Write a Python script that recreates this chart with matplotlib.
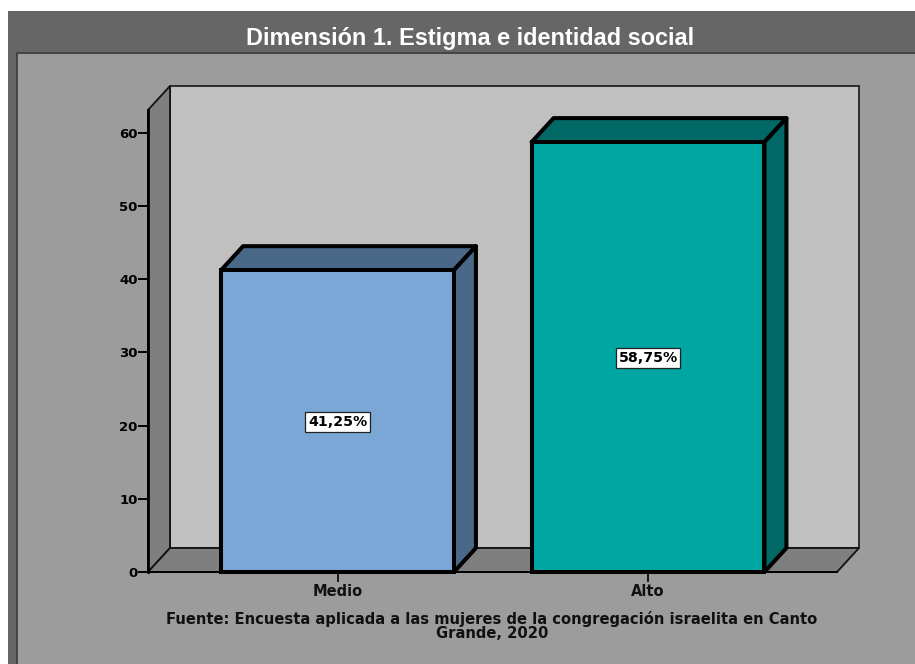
"""Recreates the 3D style bar chart of Dimension 1 (estigma e identidad social)."""

from matplotlib.patches import Polygon, Rectangle
import matplotlib.pyplot as plt

categories = ["Medio", "Alto"]
percentages = [41.25, 58.75]
percent_labels = ["41,25%", "58,75%"]
bar_colors = ["#7BA7D6", "#00A6A2"]
side_colors = ["#4A6887", "#006966"]
y_ticks = [0, 10, 20, 30, 40, 50, 60]

title = "Dimensión 1. Estigma e identidad social"
source_note = (
    "Fuente: Encuesta aplicada a las mujeres de la congregación israelita en Canto\n"
    "Grande, 2020"
)

WIDTH, HEIGHT = 915, 664
FONT = ["DejaVu Sans"]

# Front plane of the chart in pixels
LEFT, RIGHT, TOP, BOTTOM = 148, 837, 110, 572
DEPTH_X_PX, DEPTH_Y_PX = 22, 24
PX_PER_UNIT = 7.317
CATEGORY_STEP_PX = 310.5
FIRST_CENTER_PX = 337.5

fig = plt.figure(figsize=(WIDTH / 100, HEIGHT / 100), dpi=100, facecolor="white")

# Frame around the chart, pixel coordinates
bg = fig.add_axes([0, 0, 1, 1], zorder=0)
bg.set_xlim(0, WIDTH)
bg.set_ylim(HEIGHT, 0)
bg.axis("off")
bg.add_patch(Rectangle((8, 11), WIDTH - 8, HEIGHT - 11, fc="#666666", ec="none"))
bg.add_patch(Rectangle((17, 53), WIDTH, HEIGHT, fc="#9C9C9C", ec="#444444", lw=1.4))
bg.text(
    470, 38.5, title, color="white", fontsize=16.9, fontweight="bold",
    family="Liberation Sans", ha="center", va="center",
)
bg.text(
    492, 626, source_note, color="#111111", fontsize=10.6, fontweight="bold",
    family=FONT, ha="center", va="center", linespacing=0.85,
)

# Main axes: y in percent, x in category positions
ax = fig.add_axes(
    [LEFT / WIDTH, 1 - BOTTOM / HEIGHT, (RIGHT - LEFT) / WIDTH, (BOTTOM - TOP) / HEIGHT],
    zorder=1,
)
ax.patch.set_alpha(0)
ax.set_xlim(
    -(FIRST_CENTER_PX - LEFT) / CATEGORY_STEP_PX,
    (RIGHT - FIRST_CENTER_PX) / CATEGORY_STEP_PX,
)
ax.set_ylim(0, (BOTTOM - TOP) / PX_PER_UNIT)
for side in ["top", "right"]:
    ax.spines[side].set_visible(False)
ax.spines["left"].set_linewidth(2.0)
ax.spines["bottom"].set_linewidth(1.4)
ax.spines["left"].set_zorder(6)

dx = DEPTH_X_PX / CATEGORY_STEP_PX
dy = DEPTH_Y_PX / PX_PER_UNIT
x0, x1 = ax.get_xlim()
y1 = ax.get_ylim()[1]

# Back wall, left wall and floor
ax.add_patch(
    Rectangle((x0 + dx, dy), x1 - x0, y1, fc="#C0C0C0", ec="#222222", lw=1.3,
              zorder=1, clip_on=False)
)
ax.add_patch(
    Polygon([(x0, 0), (x0 + dx, dy), (x0 + dx, y1 + dy), (x0, y1)], fc="#7F7F7F",
            ec="#111111", lw=1.3, zorder=2, clip_on=False)
)
ax.add_patch(
    Polygon([(x0, 0), (x1, 0), (x1 + dx, dy), (x0 + dx, dy)], fc="#7F7F7F",
            ec="#111111", lw=1.3, zorder=2, clip_on=False)
)

# Bars with their top and side faces
bar_width = 0.75
for i, value in enumerate(percentages):
    left, right = i - bar_width / 2, i + bar_width / 2
    ax.add_patch(
        Polygon([(left, value), (right, value), (right + dx, value + dy), (left + dx, value + dy)],
                fc=side_colors[i], ec="black", lw=2.9, joinstyle="round", zorder=3, clip_on=False)
    )
    ax.add_patch(
        Polygon([(right, 0), (right + dx, dy), (right + dx, value + dy), (right, value)],
                fc=side_colors[i], ec="black", lw=2.9, joinstyle="round", zorder=3, clip_on=False)
    )
ax.bar(
    range(len(categories)), percentages, width=bar_width, color=bar_colors,
    edgecolor="black", linewidth=2.9, zorder=4, clip_on=False,
)
for i, value in enumerate(percentages):
    ax.annotate(
        percent_labels[i], (i, value / 2), xytext=(0, -0.7), textcoords="offset points",
        color="black", fontsize=10.2, fontweight="bold",
        family=FONT, ha="center", va="center", zorder=5,
        bbox=dict(boxstyle="square,pad=0.2", fc="white", ec="#222222", lw=0.9),
    )

ax.set_xticks(range(len(categories)))
ax.set_xticklabels(categories, family=FONT, fontsize=10.5, fontweight="bold", color="#111111")
ax.set_yticks(y_ticks)
ax.set_yticklabels(y_ticks, family=FONT, fontsize=9.5, fontweight="bold", color="black")
ax.tick_params(axis="x", length=7, width=1.2, pad=1.5)
ax.tick_params(axis="y", length=7, width=1.4, pad=0.5)

fig.savefig("out.png", dpi=100)
plt.close(fig)
